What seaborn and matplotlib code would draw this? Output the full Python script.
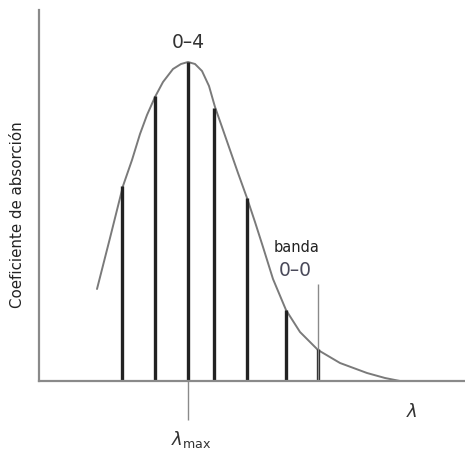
import matplotlib
matplotlib.use("Agg")
import matplotlib.pyplot as plt
import seaborn as sns
import pandas as pd

# Envelope curve (absorption coefficient vs wavelength, arbitrary units)
curve_x = [58, 71, 84, 93, 101, 108, 116, 124, 134, 142, 149, 156, 163, 170, 176,
           183, 191, 199, 208, 216, 224, 234, 247, 261, 279, 301, 328, 346, 361]
curve_y = [92, 143, 195, 221, 247, 266, 284, 299, 312, 317, 319, 317, 310, 295, 274,
           254, 231, 208, 183, 159, 134, 102, 71, 49, 31, 18, 8, 3, 0]

# Vibronic band lines
band_x = [83, 116, 149, 175, 208, 247, 279]
band_y = [195, 285, 319, 273, 183, 71, 32]

peak_label = "0–4"
origin_label = "0–0"
banda_label = "banda"
ylabel = "Coeficiente de absorción"
lam_max_x = 149
origin_x = 279
origin_top = 97

sns.set_style("white")
plt.rcParams["font.family"] = ["DejaVu Sans"]

fig = plt.figure(figsize=(4.65, 4.53), dpi=100)
ax = fig.add_axes([39/465, 72/453, 426/465, 371/453])

df = pd.DataFrame({"x": curve_x, "y": curve_y})
sns.lineplot(data=df, x="x", y="y", ax=ax, color="#7a7a7a", lw=1.4, sort=False,
             solid_joinstyle="round")

ax.vlines(band_x, 0, band_y, color="#222222", lw=2.4)
ax.vlines([origin_x], 0, origin_top, color="#8a8a8a", lw=1.0)
ax.vlines([lam_max_x], -39, 0, color="#8a8a8a", lw=1.0, clip_on=False)

ax.set_xlim(0, 426)
ax.set_ylim(0, 371)
ax.set_xticks([])
ax.set_yticks([])
ax.set_xlabel("")
ax.set_ylabel("")
for s in ["top", "right"]:
    ax.spines[s].set_visible(False)
for s in ["left", "bottom"]:
    ax.spines[s].set_color("#8a8a8a")
    ax.spines[s].set_linewidth(1.6)

ax.text(lam_max_x, 339, peak_label, ha="center", va="center", fontsize=13.5, color="#333333")
ax.text(258, 134, banda_label, ha="center", va="center", fontsize=10.5, color="#222222")
ax.text(256, 111, origin_label, ha="center", va="center", fontsize=13.5, color="#4a4a5a")
ax.text(373, -31, r"$\lambda$", ha="center", va="center", fontsize=13, color="#333333", clip_on=False)
ax.text(152, -58, r"$\lambda_{\mathrm{max}}$", ha="center", va="center", fontsize=13, color="#333333", clip_on=False)

fig.text(17/465, 1 - 215/453, ylabel, rotation=90, ha="center", va="center", fontsize=10.8, color="#222222")

fig.savefig("out.png", dpi=100)
